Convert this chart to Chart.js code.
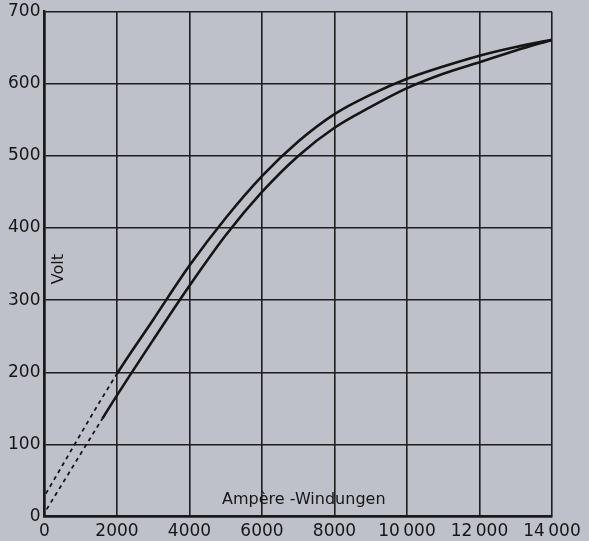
<!DOCTYPE html>
<html>
<head>
<meta charset="utf-8">
<script src="https://cdn.jsdelivr.net/npm/chart.js@4/dist/chart.umd.min.js"></script>
<style>
  html, body { margin: 0; padding: 0; background: #bec1c9; }
  #wrap { width: 589px; height: 541px; }
</style>
</head>
<body>
<div id="wrap"><canvas id="myChart" width="589" height="541"></canvas></div>
<script>
// Ampère-Windungen (x) / Volt (y)
var upperX = [40, 2000, 3000, 4000, 5000, 6000, 7000, 8000, 9000, 10000, 11000, 12000, 13000, 14000];
var upperY = [32, 198, 273, 348, 414, 472, 520, 558, 585, 607, 624, 639, 651, 661];
var lowerX = [60, 1600, 2000, 3000, 4000, 5000, 6000, 7000, 8000, 9000, 10000, 11000, 12000, 13000, 14000];
var lowerY = [10, 136, 168, 245, 320, 390, 450, 500, 539, 568, 594, 614, 630, 646, 661];
var upperDashTo = 2000;   // dashed part near origin
var lowerDashTo = 1600;
var xTicks = [0, 2000, 4000, 6000, 8000, 10000, 12000, 14000];
var xTickLabels = ['0', '2000', '4000', '6000', '8000', '10\u2009000', '12\u2009000', '14\u2009000'];
var yTicks = [0, 100, 200, 300, 400, 500, 600, 700];

function pts(xs, ys) {
  return xs.map(function (x, i) { return { x: x, y: ys[i] }; });
}

function dashed(limit) {
  return {
    borderDash: function (c) { return c.p1.parsed.x <= limit ? [4, 4] : undefined; },
    borderWidth: function (c) { return c.p1.parsed.x <= limit ? 1.8 : undefined; }
  };
}

// texts that sit inside the plot
var innerLabels = {
  id: 'innerLabels',
  afterDatasetsDraw: function (chart) {
    var c = chart.ctx, xs = chart.scales.x, ys = chart.scales.y;
    c.save();
    c.fillStyle = '#161616';
    c.font = '16px "DejaVu Sans"';
    c.textAlign = 'left';
    c.textBaseline = 'alphabetic';
    c.fillText('Ampère -Windungen', xs.getPixelForValue(4900), ys.getPixelForValue(18));
    c.translate(xs.getPixelForValue(400), ys.getPixelForValue(343));
    c.rotate(-Math.PI / 2);
    c.textAlign = 'center';
    c.textBaseline = 'middle';
    c.fillText('Volt', 0, 0);
    c.restore();
  }
};

var ctx = document.getElementById('myChart').getContext('2d');
var myChart = new Chart(ctx, {
  type: 'line',
  data: {
    datasets: [{
      label: 'aufsteigend',
      data: pts(upperX, upperY),
      borderColor: '#151515',
      borderWidth: 2.6,
      pointRadius: 0,
      cubicInterpolationMode: 'monotone',
      segment: dashed(upperDashTo)
    }, {
      label: 'absteigend',
      data: pts(lowerX, lowerY),
      borderColor: '#151515',
      borderWidth: 2.6,
      pointRadius: 0,
      cubicInterpolationMode: 'monotone',
      segment: dashed(lowerDashTo)
    }]
  },
  options: {
    responsive: false,
    animation: false,
    layout: { padding: { left: 4, right: 37, top: 0, bottom: -6 } },
    plugins: {
      legend: { display: false },
      tooltip: { enabled: false }
    },
    scales: {
      x: {
        type: 'linear',
        min: 0,
        max: 14000,
        afterBuildTicks: function (axis) {
          axis.ticks = xTicks.map(function (v) { return { value: v }; });
        },
        ticks: {
          color: '#161616',
          font: { family: 'DejaVu Sans', size: 17 },
          padding: 5,
          maxRotation: 0,
          autoSkip: false,
          callback: function (v) { return xTickLabels[xTicks.indexOf(v)]; }
        },
        grid: { color: '#1e1e1e', lineWidth: 1.6, drawTicks: false },
        border: { color: '#1a1a1a', width: 2.4 }
      },
      y: {
        type: 'linear',
        min: 0,
        max: 700,
        afterBuildTicks: function (axis) {
          axis.ticks = yTicks.map(function (v) { return { value: v }; });
        },
        ticks: {
          color: '#161616',
          font: { family: 'DejaVu Sans', size: 17, lineHeight: 0.9 },
          padding: 4,
          autoSkip: false
        },
        grid: { color: '#1e1e1e', lineWidth: 1.6, drawTicks: false },
        border: { color: '#1a1a1a', width: 2.4 }
      }
    }
  },
  plugins: [innerLabels]
});
</script>
</body>
</html>
